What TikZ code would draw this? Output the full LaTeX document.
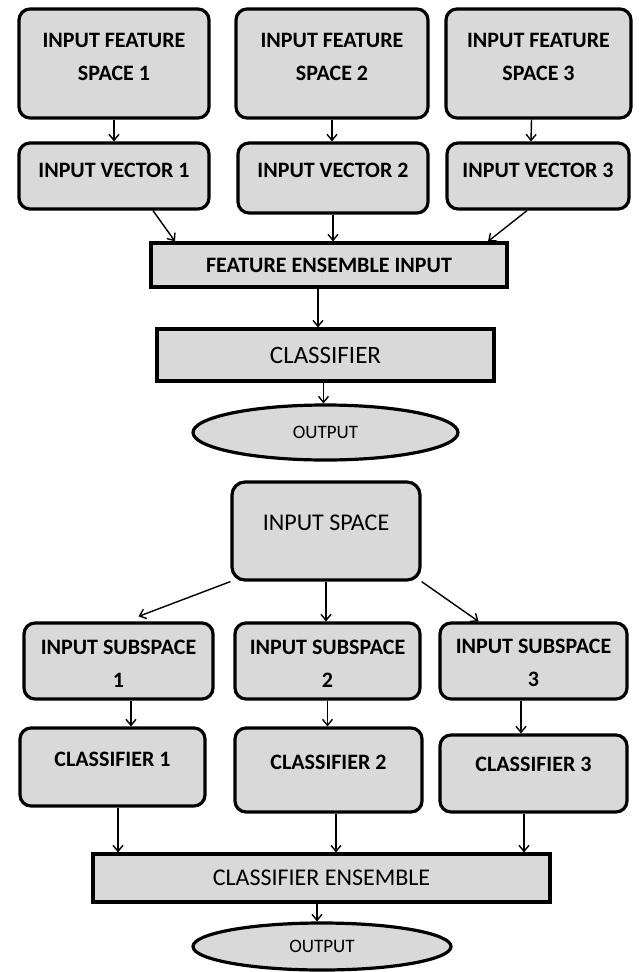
\documentclass[tikz,border=0pt]{standalone}
\usepackage{fontspec}
\setmainfont{Carlito}
\usepackage{tikz}
\usetikzlibrary{shapes,positioning,calc}
\usetikzlibrary{shapes.geometric, arrows}
\usetikzlibrary{arrows.meta}
\colorlet{boxgray}{black!15}
\tikzstyle{arrow} = [line width=1.4pt,-{Straight Barb[length=6pt,width=10pt,line width=1.4pt]}]

\begin{document}
\begin{tikzpicture}[x=1pt, y=-1pt,
	roundbox/.style={draw, rounded corners=11pt, fill=boxgray, line width=3.2pt, align=center, font=\fontsize{22}{33}\selectfont\bfseries},
	flatbox/.style={draw, rectangle, fill=boxgray, line width=3.2pt, align=center},
	outnode/.style={draw, ellipse, fill=boxgray, line width=3.2pt, font=\fontsize{19}{23}\selectfont}]
			
			\useasboundingbox (0,0) rectangle (643,972);
			
			% FEATURE ENSEMBLE
			
			\node [roundbox, minimum width=190pt, minimum height=109pt, text depth=14pt] (ifs1) at (114,63.5) {INPUT FEATURE\\SPACE 1};
			\node [roundbox, minimum width=192pt, minimum height=109pt, text depth=14pt] (ifs2) at (332,63.5) {INPUT FEATURE\\SPACE 2};
			\node [roundbox, minimum width=185pt, minimum height=109pt, text depth=14pt] (ifs3) at (538.5,63.5) {INPUT FEATURE\\SPACE 3};
			
			\node [roundbox, minimum width=190pt, minimum height=66pt, text depth=12pt] (iv1) at (114,176) {INPUT VECTOR 1};
			\node [roundbox, minimum width=190pt, minimum height=70pt, text depth=16pt] (iv2) at (333,178) {INPUT VECTOR 2};
			\node [roundbox, minimum width=182pt, minimum height=66pt, text depth=12pt] (iv3) at (538,176) {INPUT VECTOR 3};
			
			\node [flatbox, minimum width=356pt, minimum height=44pt, font=\fontsize{22}{26}\selectfont\bfseries] (fei) at (329,265) {FEATURE ENSEMBLE INPUT};
			\node [flatbox, minimum width=337pt, minimum height=52pt, font=\fontsize{25}{30}\selectfont] (clf) at (325.5,355) {CLASSIFIER};
			\node [outnode, minimum width=265pt, minimum height=55pt] (out1) at (325.5,432.5) {OUTPUT};
			
			\draw [arrow] (ifs1.south) -- (iv1.north);
			\draw [arrow] (ifs2.south) -- (ifs2.south |- iv2.north);
			\draw [arrow] ([xshift=-7pt]ifs3.south) -- ([xshift=-7pt]iv3.north);
			\draw [arrow] ([xshift=39pt]iv1.south) -- ([xshift=-154pt]fei.north);
			\draw [arrow] (iv2.south) -- (iv2.south |- fei.north);
			\draw [arrow] ([xshift=-11pt]iv3.south) -- ([xshift=159pt]fei.north);
			\draw [arrow] ([xshift=-11pt]fei.south) -- ([xshift=-11pt]fei.south |- clf.north);
			\draw [arrow] ([xshift=-2pt]clf.south) -- ([xshift=-2pt]clf.south |- out1.north);
			
			% CLASSIFIER ENSEMBLE
			
			\node [roundbox, rounded corners=13pt, minimum width=188pt, minimum height=98pt, text depth=16pt, font=\fontsize{24}{29}\selectfont] (insp) at (326,531) {INPUT SPACE};
			
			\node [roundbox, minimum width=189pt, minimum height=76pt, text height=52pt] (is1) at (118.5,661) {INPUT SUBSPACE\\1};
			\node [roundbox, minimum width=185pt, minimum height=76pt, text height=52pt] (is2) at (327.5,661) {INPUT SUBSPACE\\2};
			\node [roundbox, minimum width=187pt, minimum height=76pt, text height=52pt] (is3) at (533.5,661) {INPUT SUBSPACE\\3};
			
			\node [roundbox, minimum width=185pt, minimum height=78pt, text depth=16pt] (cl1) at (112.5,767) {CLASSIFIER 1};
			\node [roundbox, minimum width=187pt, minimum height=84pt, text depth=16pt] (cl2) at (328.5,770) {CLASSIFIER 2};
			\node [roundbox, minimum width=187pt, minimum height=77pt, text depth=18pt] (cl3) at (533.5,773.5) {CLASSIFIER 3};
			
			\node [flatbox, minimum width=457pt, minimum height=48pt, font=\fontsize{24}{29}\selectfont] (ce) at (321.5,878) {CLASSIFIER ENSEMBLE};
			\node [outnode, minimum width=258pt, minimum height=47pt] (out2) at (322,946.5) {OUTPUT};
			
			\draw [arrow] (insp.south west) -- ([xshift=20pt,yshift=5pt]is1.north);
			\draw [arrow] (insp.south) -- (insp.south |- is2.north);
			\draw [arrow] (insp.south east) -- ([xshift=-55pt]is3.north);
			\draw [arrow] ([xshift=12.5pt]is1.south) -- ([xshift=12.5pt]is1.south |- cl1.north);
			\draw [arrow] (is2.south) -- (is2.south |- cl2.north);
			\draw [arrow] ([xshift=-12.5pt]is3.south) -- ([xshift=-12.5pt]is3.south |- cl3.north);
			\draw [arrow] ([xshift=5.5pt]cl1.south) -- ([xshift=5.5pt]cl1.south |- ce.north);
			\draw [arrow] ([xshift=7.5pt]cl2.south) -- ([xshift=7.5pt]cl2.south |- ce.north);
			\draw [arrow] ([xshift=-9.5pt]cl3.south) -- ([xshift=-9.5pt]cl3.south |- ce.north);
			\draw [arrow] ([xshift=-4.5pt]ce.south) -- ([xshift=-4.5pt]ce.south |- out2.north);
		
		\end{tikzpicture}
\end{document}
